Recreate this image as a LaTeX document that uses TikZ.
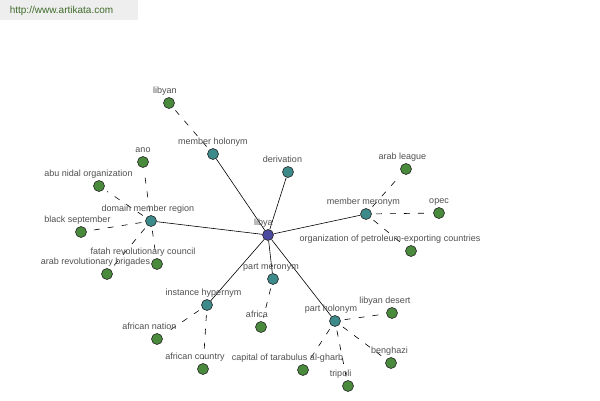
\documentclass[tikz,border=0pt]{standalone}
\usepackage{fontspec}
\setmainfont{Liberation Sans}
\usepackage{xcolor}
\usetikzlibrary{backgrounds}

\definecolor{hubblue}{HTML}{4A4A9E}
\definecolor{relteal}{HTML}{3D8A8A}
\definecolor{leafgreen}{HTML}{4A8A3C}
\definecolor{labelgray}{HTML}{505050}
\definecolor{sitegreen}{HTML}{3F6B2A}
\definecolor{sitebox}{HTML}{EEEEEE}

\begin{document}
\begin{tikzpicture}[x=1pt,y=-1pt,
    dot/.style={circle, draw=black!85, line width=0.6pt,
                minimum size=11pt, inner sep=0pt},
    hub/.style={dot, fill=hubblue},
    rel/.style={dot, fill=relteal},
    leaf/.style={dot, fill=leafgreen},
    every label/.style={font=\fontsize{9}{10}\selectfont, text=labelgray,
                        inner sep=0pt, text depth=0pt},
    label distance=3.5pt,
    link/.style={black, line width=0.6pt},
    dlink/.style={black, line width=0.6pt, dash pattern=on 6pt off 8pt,
                  shorten <=4pt, shorten >=4pt}]
  \useasboundingbox (0,0) rectangle (600,400);
  % site mark
  \fill[sitebox] (0,0) rectangle (138,20);
  \node[font=\fontsize{10}{12}\selectfont, text=sitegreen, inner sep=0pt]
    (site) at (61.5,11) {http://www.artikata.com};

  % centre and relations
  \node[hub, label={[xshift=-4.5pt]above:libya}] (libya) at (268,235) {};
  \node[rel, label={[xshift=0pt]above:member holonym}] (memhol) at (213,154) {};
  \node[rel, label={[xshift=-5.5pt]above:derivation}] (deriv) at (288,172) {};
  \node[rel, label={[xshift=-2.5pt]above:member meronym}] (memmer) at (366,214) {};
  \node[rel, label={[xshift=-3pt]above:domain member region}] (domreg) at (151,221) {};
  \node[rel, label={[xshift=-2pt]above:part meronym}] (partmer) at (273,279) {};
  \node[rel, label={[xshift=-3.5pt]above:instance hypernym}] (insthyp) at (207,305) {};
  \node[rel, label={[xshift=-4pt]above:part holonym}] (parthol) at (335,321) {};

  % leaves
  \node[leaf, label={[xshift=-4pt]above:libyan}] (libyan) at (169,103) {};
  \node[leaf, label={[xshift=0pt]above:ano}] (ano) at (143,162) {};
  \node[leaf, label={[xshift=-10.5pt]above:abu nidal organization}] (abunidal) at (99,186) {};
  \node[leaf, label={[xshift=-3.5pt]above:black september}] (blacksept) at (81,232) {};
  \node[leaf, label={[xshift=-14pt]above:fatah revolutionary council}] (fatah) at (157,264) {};
  \node[leaf, label={[xshift=-11.5pt]above:arab revolutionary brigades}] (arabrev) at (107,274) {};
  \node[leaf, label={[xshift=-3.5pt]above:arab league}] (arableague) at (406,169) {};
  \node[leaf, label={[xshift=0pt]above:opec}] (opec) at (439,213) {};
  \node[leaf, label={[xshift=-21pt]above:organization of petroleum-exporting countries}] (orgpec) at (411,251) {};
  \node[leaf, label={[xshift=-7.5pt]above:african nation}] (afrnation) at (157,339) {};
  \node[leaf, label={[xshift=-8pt]above:african country}] (afrcountry) at (203,369) {};
  \node[leaf, label={[xshift=-4pt]above:africa}] (africa) at (261,327) {};
  \node[leaf, label={[xshift=-7pt]above:libyan desert}] (libdesert) at (392,313) {};
  \node[leaf, label={[xshift=-1.5pt]above:benghazi}] (benghazi) at (391,363) {};
  \node[leaf, label={[xshift=-7.5pt]above:tripoli}] (tripoli) at (348,386) {};
  \node[leaf, label={[xshift=-15.5pt]above:capital of tarabulus al-gharb}] (capital) at (303,370) {};

  \begin{scope}[on background layer]
    \fill[white] (0,20) rectangle (600,400);
    \foreach \r in {memhol,deriv,memmer,domreg,partmer,insthyp,parthol}
      \draw[link] (libya) -- (\r);
    \foreach \a/\b in {memhol/libyan, domreg/ano, domreg/abunidal,
        domreg/blacksept, domreg/fatah, domreg/arabrev,
        memmer/arableague, memmer/opec, memmer/orgpec,
        insthyp/afrnation, insthyp/afrcountry, partmer/africa,
        parthol/libdesert, parthol/benghazi, parthol/tripoli, parthol/capital}
      \draw[dlink] (\a) -- (\b);
  \end{scope}
\end{tikzpicture}
\end{document}
